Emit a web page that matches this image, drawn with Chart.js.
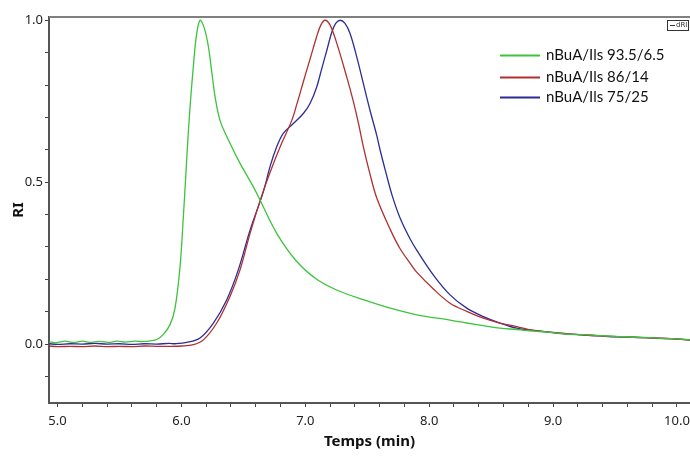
<!DOCTYPE html>
<html>
<head>
<meta charset="utf-8">
<script src="https://cdn.jsdelivr.net/npm/chart.js@4.4.1/dist/chart.umd.min.js"></script>
<style>
  html, body { margin: 0; padding: 0; background: #fff; }
  #chart { display: block; }
</style>
</head>
<body>
<canvas id="chart" width="690" height="456"></canvas>
<script>
// series labels
const seriesNames = ["nBuA/Ils 93.5/6.5", "nBuA/Ils 86/14", "nBuA/Ils 75/25"];

// nBuA/Ils 93.5/6.5 (green)
const greenT = [4.93, 4.99, 5.06, 5.13, 5.2, 5.27, 5.34, 5.41, 5.48, 5.55, 5.62, 5.69, 5.75, 5.8, 5.854, 5.908, 5.948, 5.989, 6.015, 6.035,
  6.055, 6.075, 6.096, 6.12, 6.15, 6.185, 6.217, 6.245, 6.271, 6.312, 6.392, 6.473, 6.58, 6.634, 6.769, 6.931, 7.092, 7.253, 7.468, 7.684,
  7.899, 8.168, 8.303, 8.437, 8.571, 8.706, 8.84, 8.98, 9.11, 9.25, 9.378, 9.51, 9.647, 9.78, 9.9, 10.0, 10.105];
const greenRI = [0.007, 0.004, 0.009, 0.005, 0.009, 0.005, 0.008, 0.005, 0.009, 0.006, 0.009, 0.008, 0.01, 0.014, 0.03, 0.06, 0.11, 0.24, 0.39, 0.52,
  0.65, 0.76, 0.856, 0.95, 1.0, 0.975, 0.92, 0.84, 0.765, 0.69, 0.62, 0.558, 0.486, 0.445, 0.342, 0.255, 0.2, 0.167, 0.137, 0.111,
  0.09, 0.074, 0.065, 0.057, 0.049, 0.045, 0.04, 0.036, 0.031, 0.029, 0.026, 0.024, 0.021, 0.02, 0.017, 0.016, 0.013];

// nBuA/Ils 86/14 (red)
const redT = [4.93, 5.0, 5.1, 5.2, 5.3, 5.4, 5.5, 5.6, 5.7, 5.8, 5.9, 6.0, 6.096, 6.177, 6.285, 6.392, 6.473, 6.554, 6.655, 6.735,
  6.809, 6.89, 6.931, 6.984, 7.038, 7.092, 7.125, 7.159, 7.2, 7.253, 7.334, 7.387, 7.43, 7.468, 7.522, 7.576, 7.684, 7.764, 7.845, 7.899,
  8.034, 8.168, 8.303, 8.437, 8.571, 8.706, 8.84, 8.98, 9.11, 9.25, 9.378, 9.51, 9.647, 9.78, 9.9, 10.0, 10.105];
const redRI = [-0.006, -0.008, -0.007, -0.008, -0.006, -0.008, -0.007, -0.008, -0.006, -0.007, -0.007, -0.006, -0.002, 0.013, 0.065, 0.147, 0.229, 0.342, 0.466, 0.55,
  0.62, 0.69, 0.74, 0.81, 0.88, 0.95, 0.985, 1.0, 0.985, 0.93, 0.825, 0.75, 0.68, 0.61, 0.525, 0.452, 0.355, 0.295, 0.25, 0.222,
  0.17, 0.126, 0.101, 0.08, 0.065, 0.054, 0.042, 0.037, 0.032, 0.028, 0.025, 0.023, 0.021, 0.019, 0.018, 0.015, 0.012];

// nBuA/Ils 75/25 (blue)
const blueT = [4.93, 5.0, 5.1, 5.2, 5.3, 5.4, 5.5, 5.6, 5.7, 5.8, 5.9, 5.95, 6.043, 6.15, 6.258, 6.366, 6.459, 6.554, 6.661, 6.715,
  6.769, 6.822, 6.903, 6.984, 7.038, 7.092, 7.132, 7.172, 7.213, 7.245, 7.28, 7.32, 7.361, 7.415, 7.468, 7.522, 7.576, 7.603, 7.65, 7.70,
  7.764, 7.845, 7.899, 8.034, 8.168, 8.303, 8.437, 8.571, 8.706, 8.84, 8.98, 9.11, 9.25, 9.378, 9.51, 9.647, 9.78, 9.9, 10.0, 10.105];
const blueRI = [0.001, -0.001, 0.001, 0.0, 0.002, 0.0, 0.001, -0.001, 0.001, 0.0, 0.002, 0.001, 0.005, 0.019, 0.065, 0.137, 0.229, 0.352, 0.47, 0.548,
  0.609, 0.651, 0.681, 0.712, 0.743, 0.794, 0.85, 0.905, 0.962, 0.99, 1.0, 0.99, 0.959, 0.887, 0.805, 0.722, 0.645, 0.6, 0.53, 0.46,
  0.39, 0.325, 0.29, 0.213, 0.152, 0.111, 0.085, 0.065, 0.049, 0.042, 0.036, 0.031, 0.028, 0.025, 0.022, 0.021, 0.019, 0.017, 0.016, 0.012];

// tick labels
const xLabels = [5, 6, 7, 8, 9, 10];
const yLabels = [0, 0.5, 1];

const colors = ["#3cc43c", "#b03030", "#2c2c96"];

function pts(t, v) {
  return t.map((x, i) => ({ x: x, y: v[i] }));
}

// top frame line, small dRI box and in-plot legend
const decorPlugin = {
  id: "decor",
  afterDraw(chart) {
    const c = chart.ctx;
    const a = chart.chartArea;
    c.save();
    c.strokeStyle = "#808080";
    c.lineWidth = 2;
    c.beginPath();
    c.moveTo(a.left, a.top);
    c.lineTo(a.right, a.top);
    c.stroke();

    // dRI box
    c.strokeStyle = "#333";
    c.lineWidth = 1;
    c.strokeRect(667.5, 20.5, 21, 10);
    c.beginPath();
    c.moveTo(670, 25.5);
    c.lineTo(675, 25.5);
    c.stroke();
    c.fillStyle = "#333";
    c.font = "7px 'DejaVu Sans'";
    c.textBaseline = "middle";
    c.fillText("dRI", 676, 25.5);

    // legend
    const rows = [55, 77, 97];
    chart.data.datasets.forEach((ds, i) => {
      c.strokeStyle = ds.borderColor;
      c.lineWidth = 2;
      c.beginPath();
      c.moveTo(500, rows[i] + 0.5);
      c.lineTo(540, rows[i] + 0.5);
      c.stroke();
      c.fillStyle = "#111";
      c.font = "15px Lato";
      c.textBaseline = "middle";
      c.fillText(ds.label, 546, rows[i]);
    });
    c.restore();
  }
};

const ctx = document.getElementById("chart").getContext("2d");
new Chart(ctx, {
  type: "line",
  data: {
    datasets: [
      { label: seriesNames[0], data: pts(greenT, greenRI), borderColor: colors[0] },
      { label: seriesNames[1], data: pts(redT, redRI), borderColor: colors[1] },
      { label: seriesNames[2], data: pts(blueT, blueRI), borderColor: colors[2] }
    ]
  },
  options: {
    responsive: false,
    devicePixelRatio: 1,
    animation: false,
    layout: { padding: { top: 17, right: 0, left: 0, bottom: 0 } },
    elements: {
      point: { radius: 0 },
      line: { borderWidth: 1.3, tension: 0.35, fill: false }
    },
    plugins: { legend: { display: false }, tooltip: { enabled: false } },
    scales: {
      x: {
        type: "linear",
        min: 4.931,
        max: 10.105,
        afterBuildTicks(s) {
          const t = [];
          for (let i = 0; i <= 25; i++) t.push({ value: Math.round((5 + i * 0.2) * 10) / 10 });
          s.ticks = t;
        },
        afterFit(s) { s.height = 53; s.paddingLeft = 0; s.paddingRight = 0; },
        grid: { drawOnChartArea: false, tickLength: 4, color: "#444" },
        border: { color: "#555", width: 2 },
        ticks: {
          autoSkip: false,
          maxRotation: 0,
          padding: 6,
          color: "#222",
          font: { family: "'Noto Sans'", size: 13 },
          callback: v => xLabels.includes(v) ? v.toFixed(1) : ""
        },
        title: {
          display: true,
          text: "Temps (min)",
          color: "#111",
          font: { family: "'Noto Sans'", size: 15, weight: "bold" },
          padding: { top: 0, bottom: 5 }
        }
      },
      y: {
        min: -0.182,
        max: 1.01,
        afterBuildTicks(s) {
          const t = [];
          for (let i = -1; i <= 10; i++) t.push({ value: Math.round(i) / 10 });
          s.ticks = t;
        },
        afterFit(s) { s.width = 49; s.paddingTop = 0; s.paddingBottom = 0; },
        grid: { drawOnChartArea: false, tickLength: 4, color: "#444" },
        border: { color: "#555", width: 2 },
        ticks: {
          autoSkip: false,
          padding: 2,
          color: "#222",
          font: { family: "'Noto Sans'", size: 13 },
          callback: v => yLabels.includes(v) ? v.toFixed(1) : ""
        },
        title: {
          display: true,
          text: "RI",
          color: "#111",
          font: { family: "'Noto Sans'", size: 15, weight: "bold" },
          padding: { top: 10, bottom: 0 }
        }
      }
    }
  },
  plugins: [decorPlugin]
});
</script>
</body>
</html>
